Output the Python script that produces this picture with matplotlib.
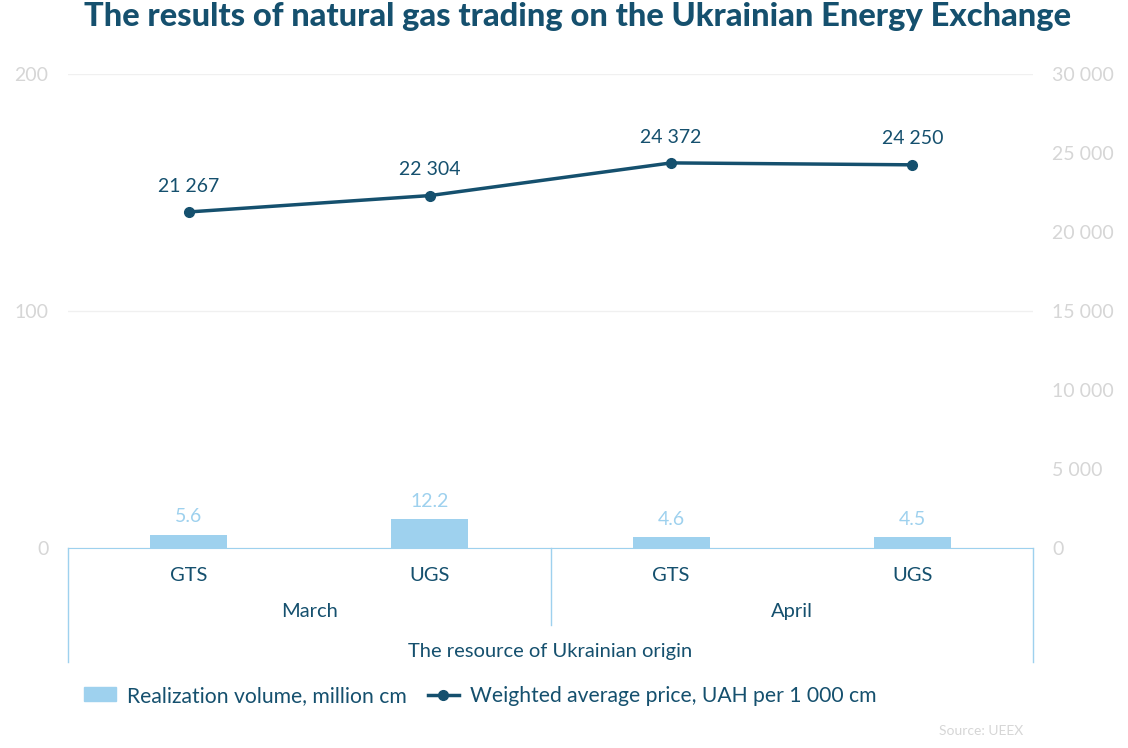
import matplotlib.pyplot as plt
from matplotlib.lines import Line2D
from matplotlib.patches import Patch

plt.rcParams['font.family'] = ['Lato', 'DejaVu Sans']

types = ['GTS', 'UGS', 'GTS', 'UGS']
months = ['March', 'April']
group_label = 'The resource of Ukrainian origin'
volume = [5.6, 12.2, 4.6, 4.5]
price = [21267, 22304, 24372, 24250]

dark = '#15506e'
light = '#9ed1ee'
grey = '#d6d6d6'

def fmt(v):
    return f'{v:,}'.replace(',', ' ')

fig = plt.figure(figsize=(11.28, 7.48), dpi=100)
ax = fig.add_axes([0.0603, 0.2674, 0.8555, 0.6337])
ax2 = ax.twinx()

x = list(range(len(types)))
ax.bar(x, volume, width=0.32, color=light, zorder=2)
for xi, v in zip(x, volume):
    ax.text(xi, v + 4, f'{v}', ha='center', va='bottom', color=light, fontsize=14)

ax2.plot(x, price, color=dark, lw=2.5, marker='o', ms=7, zorder=3)
for xi, p in zip(x, price):
    ax2.text(xi, p + 1100, fmt(p), ha='center', va='bottom', color=dark, fontsize=14)

ax.set_xlim(-0.5, 3.5)
ax.set_ylim(0, 200)
ax.set_yticks([0, 100, 200])
ax2.set_ylim(0, 30000)
ax2.set_yticks(range(0, 30001, 5000))
ax2.set_yticklabels([fmt(v) for v in range(0, 30001, 5000)])
ax.grid(axis='y', color='#f0f0f0', lw=1, zorder=0)
ax.set_axisbelow(True)

for a in (ax, ax2):
    for s in ('top', 'left', 'right'):
        a.spines[s].set_visible(False)
    a.spines['bottom'].set_color(light)
    a.tick_params(axis='y', length=0, labelcolor=grey, labelsize=14, pad=14)
ax.tick_params(axis='x', length=0, labelbottom=False)
ax2.spines['bottom'].set_visible(False)

# multi-level category axis
trans = ax.get_xaxis_transform()
for xi, t in zip(x, types):
    ax.text(xi, -0.059, t, transform=trans, ha='center', va='center', color=dark, fontsize=14.5)
for i, m in enumerate(months):
    ax.text(2 * i + 0.5, -0.135, m, transform=trans, ha='center', va='center', color=dark, fontsize=14.5)
ax.text(1.5, -0.219, group_label, transform=trans, ha='center', va='center', color=dark, fontsize=14.5)
for xv, y0 in [(-0.5, -0.24), (1.5, -0.162), (3.5, -0.24)]:
    ax.add_line(Line2D([xv, xv], [0, y0], transform=trans, color=light, lw=1, clip_on=False))

fig.suptitle('The results of natural gas trading on the Ukrainian Energy Exchange',
             x=0.512, y=0.997, fontsize=23.5, fontweight='black', color=dark)

handles = [Patch(color=light, label='Realization volume, million cm'),
           Line2D([], [], color=dark, lw=2.5, marker='o', ms=7,
                  label='Weighted average price, UAH per 1 000 cm')]
leg = fig.legend(handles=handles, loc='center left', bbox_to_anchor=(0.058, 0.07), ncol=2,
                 frameon=False, fontsize=15.2, handlelength=1.5, handletextpad=0.5,
                 columnspacing=1.0, handleheight=0.6)
for t in leg.get_texts():
    t.set_color(dark)

fig.text(0.907, 0.023, 'Source: UEEX', ha='right', va='center', color=grey, fontsize=10)

fig.savefig('out.png', dpi=100)
